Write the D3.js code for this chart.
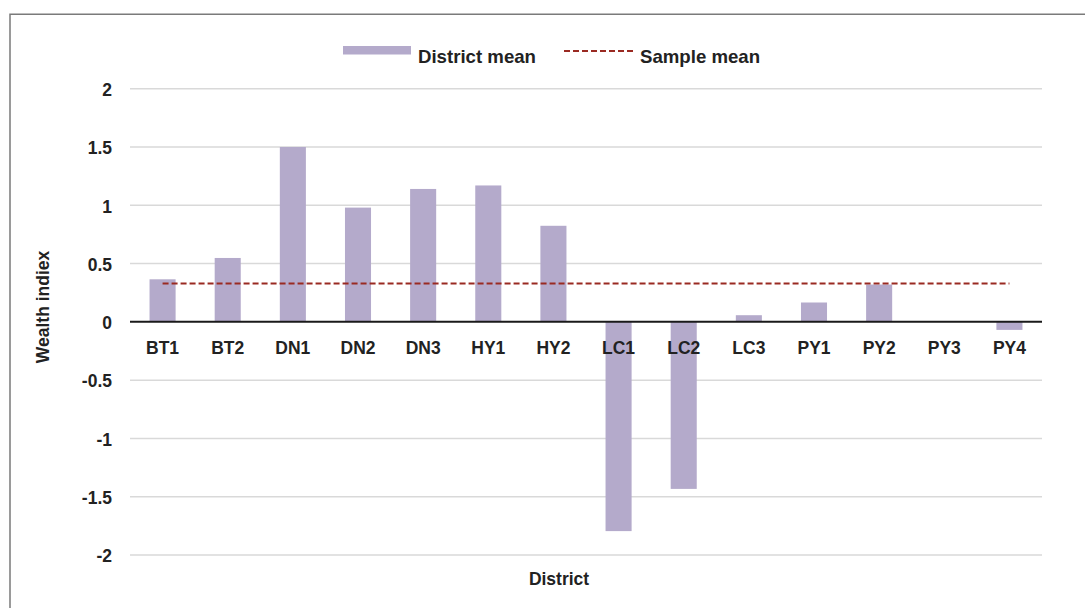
<!DOCTYPE html>
<html><head><meta charset="utf-8">
<script src="https://cdn.jsdelivr.net/npm/d3@7"></script>
<style>
html,body{margin:0;padding:0;background:#fff;}
svg{display:block;}
text{font-family:"Liberation Sans Narrow","Arial Narrow","Liberation Sans",Arial,sans-serif;font-weight:bold;fill:#222;}
</style></head>
<body>
<svg id="chart" width="1085" height="608"></svg>
<script>
const categories = ["BT1","BT2","DN1","DN2","DN3","HY1","HY2","LC1","LC2","LC3","PY1","PY2","PY3","PY4"];
const districtMean = [0.365,0.548,1.50,0.98,1.14,1.17,0.824,-1.795,-1.433,0.057,0.166,0.32,0.0,-0.069];
const sampleMean = 0.33;
const yTicks = [2,1.5,1,0.5,0,-0.5,-1,-1.5,-2];
const yTickLabels = ["2","1.5","1","0.5","0","-0.5","-1","-1.5","-2"];
const seriesNames = ["District mean","Sample mean"];
const axisTitles = {x:"District", y:"Wealth indiex"};

const svg = d3.select("#chart");
const W = 1085, H = 608;
const FS = "19px";
const plot = {left:130, right:1042, top:88.7, bottom:555};

// outer border (left and top only visible)
svg.append("path").attr("d",`M10,${H} L10,14.3 L${W},14.3`).attr("fill","none").attr("stroke","#7a7a7a").attr("stroke-width",1.5);

const x = d3.scaleBand().domain(categories).range([plot.left, plot.right]).paddingInner(0.6).paddingOuter(0.3);
const y = d3.scaleLinear().domain([-2,2]).range([plot.bottom, plot.top]);

// gridlines
svg.append("g").selectAll("line").data(yTicks.filter(d=>d!==0)).join("line")
  .attr("x1",plot.left).attr("x2",plot.right)
  .attr("y1",d=>y(d)).attr("y2",d=>y(d))
  .attr("stroke","#d9d9d9").attr("stroke-width",1.5);

// y tick labels via axis
const yAxis = d3.axisLeft(y).tickValues(yTicks).tickFormat((d,i)=>yTickLabels[i]).tickSize(0).tickPadding(18);
const yg = svg.append("g").attr("transform",`translate(${plot.left},0)`).call(yAxis);
yg.select(".domain").remove();
yg.selectAll("text").style("font-size",FS).attr("fill","#222").attr("font-family",null).attr("dy","0.36em");

// bars
svg.append("g").selectAll("rect").data(categories).join("rect")
  .attr("x",d=>x(d))
  .attr("width",x.bandwidth())
  .attr("y",(d,i)=>y(Math.max(0,districtMean[i])))
  .attr("height",(d,i)=>Math.abs(y(districtMean[i])-y(0)))
  .attr("fill","#b4aacb");

// zero line
svg.append("line").attr("x1",plot.left).attr("x2",plot.right)
  .attr("y1",y(0)).attr("y2",y(0)).attr("stroke","#1a1a1a").attr("stroke-width",2);

// sample mean dashed line
svg.append("line")
  .attr("x1",x(categories[0])+x.bandwidth()/2)
  .attr("x2",x(categories[categories.length-1])+x.bandwidth()/2)
  .attr("y1",y(sampleMean)).attr("y2",y(sampleMean))
  .attr("stroke","#9a2a22").attr("stroke-width",2).attr("stroke-dasharray","6,3");

// x category labels
const xAxis = d3.axisBottom(x).tickSize(0).tickPadding(0);
const xg = svg.append("g").attr("transform",`translate(0,${y(0)})`).call(xAxis);
xg.select(".domain").remove();
xg.selectAll("text").style("font-size",FS).attr("fill","#222").attr("font-family",null).attr("dy",null).attr("y",32);

// axis titles
svg.append("text").attr("x",559).attr("y",585).attr("text-anchor","middle").style("font-size",FS).text(axisTitles.x);
svg.append("text").attr("transform","translate(49,307) rotate(-90)").attr("text-anchor","middle").style("font-size",FS).text(axisTitles.y);

// legend
const lg = svg.append("g").attr("class","legend");
lg.append("rect").attr("x",343).attr("y",46).attr("width",68).attr("height",8.5).attr("fill","#b4aacb");
lg.append("text").attr("x",418).attr("y",62.5).style("font-size",FS).text(seriesNames[0]);
lg.append("line").attr("x1",564).attr("x2",633).attr("y1",51).attr("y2",51)
  .attr("stroke","#9a2a22").attr("stroke-width",2).attr("stroke-dasharray","6,3");
lg.append("text").attr("x",640).attr("y",62.5).style("font-size",FS).text(seriesNames[1]);

// condense glyphs to mimic the narrow bold face of the reference
svg.selectAll("text").each(function(){
  const len = this.getComputedTextLength();
  const inLegend = this.parentNode.getAttribute("class") === "legend";
  d3.select(this).attr("textLength", len*(inLegend ? 0.98 : 0.92)).attr("lengthAdjust","spacingAndGlyphs");
});
</script>
</body></html>
